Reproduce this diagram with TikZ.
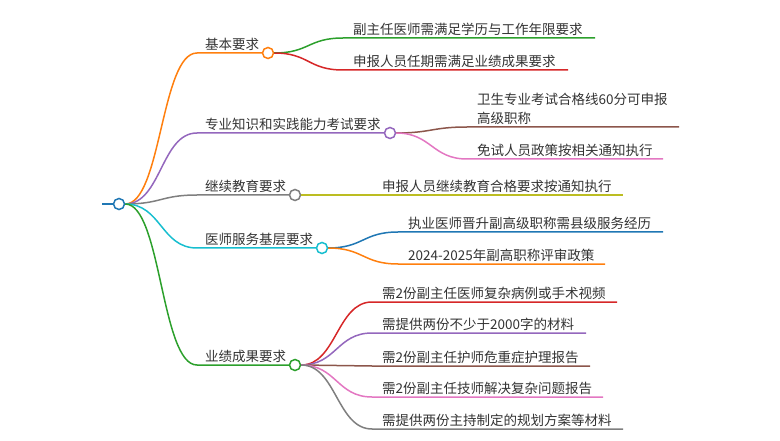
\documentclass[tikz,border=0pt]{standalone}
\usepackage{fontspec}
\newfontfamily\cjk{Noto Sans CJK SC}
\definecolor{cBlue}{HTML}{1F77B4}
\definecolor{cOrange}{HTML}{FF7F0E}
\definecolor{cGreen}{HTML}{2CA02C}
\definecolor{cRed}{HTML}{D62728}
\definecolor{cPurple}{HTML}{9467BD}
\definecolor{cBrown}{HTML}{8C564B}
\definecolor{cPink}{HTML}{E377C2}
\definecolor{cGray}{HTML}{7F7F7F}
\definecolor{cOlive}{HTML}{BCBD22}
\definecolor{cCyan}{HTML}{17BECF}
\definecolor{txt}{HTML}{333333}
\begin{document}
\begin{tikzpicture}[x=1pt,y=-1pt,
  link/.style={line width=1.5pt},
  dot/.style={circle, draw, fill=white, line width=1.5pt, minimum size=11pt, inner sep=0pt},
  lbl/.style={anchor=base west, inner sep=0pt, text=txt, align=left, font=\cjk\fontsize{13.5}{19}\selectfont}]
\useasboundingbox (0,0) rectangle (780,441);

% coordinates
\coordinate (s0) at (102,204);
\coordinate (s1) at (197,53);
\coordinate (s2) at (197,133);
\coordinate (s3) at (197,195);
\coordinate (s4) at (197,248);
\coordinate (s5) at (197,365);

\node[dot, draw=cBlue] (r) at (119,204) {};
\node[dot, draw=cOrange] (c1) at (268,53) {};
\node[dot, draw=cPurple] (c2) at (390,133) {};
\node[dot, draw=cGray] (c3) at (295,195) {};
\node[dot, draw=cCyan] (c4) at (322,248) {};
\node[dot, draw=cGreen] (c5) at (295,365) {};

% level-1 labels
\node[lbl] (t1) at (205,49.5) {基本要求};
\node[lbl] (t2) at (205,129.5) {专业知识和实践能力考试要求};
\node[lbl] (t3) at (205,191.5) {继续教育要求};
\node[lbl] (t4) at (205,244.5) {医师服务基层要求};
\node[lbl] (t5) at (205,361.5) {业绩成果要求};

% level-2 coordinates
\coordinate (a1) at (343,38);  \coordinate (b1) at (595,38);
\coordinate (a2) at (343,70);  \coordinate (b2) at (568,70);
\coordinate (a3) at (467,127); \coordinate (b3) at (679,127);
\coordinate (a4) at (467,159); \coordinate (b4) at (663,159);
\coordinate (a5) at (372,195); \coordinate (b5) at (623,195);
\coordinate (a6) at (398,232); \coordinate (b6) at (663,232);
\coordinate (a7) at (398,264); \coordinate (b7) at (605,264);
\coordinate (a8) at (372,302); \coordinate (b8) at (617,302);
\coordinate (a9) at (372,333); \coordinate (b9) at (586,333);
\coordinate (a10) at (372,366); \coordinate (b10) at (590,366);
\coordinate (a11) at (372,397); \coordinate (b11) at (603,397);
\coordinate (a12) at (372,429); \coordinate (b12) at (623,429);

% level-2 labels
\node[lbl] (u1) at (353,34.5) {副主任医师需满足学历与工作年限要求};
\node[lbl] (u2) at (353,66.5) {申报人员任期需满足业绩成果要求};
\node[lbl] (u3) at (477,123.5) {卫生专业考试合格线60分可申报\\高级职称};
\node[lbl] (u4) at (477,155.5) {免试人员政策按相关通知执行};
\node[lbl] (u5) at (382,191.5) {申报人员继续教育合格要求按通知执行};
\node[lbl] (u6) at (408,228.5) {执业医师晋升副高级职称需县级服务经历};
\node[lbl] (u7) at (408,260.5) {2024-2025年副高职称评审政策};
\node[lbl] (u8) at (382,298.5) {需2份副主任医师复杂病例或手术视频};
\node[lbl] (u9) at (382,329.5) {需提供两份不少于2000字的材料};
\node[lbl] (u10) at (382,362.5) {需2份副主任护师危重症护理报告};
\node[lbl] (u11) at (382,393.5) {需2份副主任技师解决复杂问题报告};
\node[lbl] (u12) at (382,425.5) {需提供两份主持制定的规划方案等材料};

% root stub
\draw[link, cBlue] (s0) -- (r.west);
% level-1 connectors
\draw[link, cOrange] (r.east) .. controls +(36,0) and +(-36,0) .. (s1) -- (c1.west);
\draw[link, cPurple] (r.east) .. controls +(36,0) and +(-36,0) .. (s2) -- (c2.west);
\draw[link, cGray] (r.east) .. controls +(36,0) and +(-36,0) .. (s3) -- (c3.west);
\draw[link, cCyan] (r.east) .. controls +(36,0) and +(-36,0) .. (s4) -- (c4.west);
\draw[link, cGreen] (r.east) .. controls +(36,0) and +(-36,0) .. (s5) -- (c5.west);
% level-2 connectors
\draw[link, cGreen] (c1.east) .. controls +(35,0) and +(-35,0) .. (a1) -- (b1);
\draw[link, cRed] (c1.east) .. controls +(35,0) and +(-35,0) .. (a2) -- (b2);
\draw[link, cBrown] (c2.east) .. controls +(35,0) and +(-35,0) .. (a3) -- (b3);
\draw[link, cPink] (c2.east) .. controls +(35,0) and +(-35,0) .. (a4) -- (b4);
\draw[link, cOlive] (c3.east) -- (a5) -- (b5);
\draw[link, cBlue] (c4.east) .. controls +(35,0) and +(-35,0) .. (a6) -- (b6);
\draw[link, cOrange] (c4.east) .. controls +(35,0) and +(-35,0) .. (a7) -- (b7);
\draw[link, cRed] (c5.east) .. controls +(35,0) and +(-35,0) .. (a8) -- (b8);
\draw[link, cPurple] (c5.east) .. controls +(35,0) and +(-35,0) .. (a9) -- (b9);
\draw[link, cBrown] (c5.east) .. controls +(35,0) and +(-35,0) .. (a10) -- (b10);
\draw[link, cPink] (c5.east) .. controls +(35,0) and +(-35,0) .. (a11) -- (b11);
\draw[link, cGray] (c5.east) .. controls +(35,0) and +(-35,0) .. (a12) -- (b12);
\end{tikzpicture}
\end{document}
